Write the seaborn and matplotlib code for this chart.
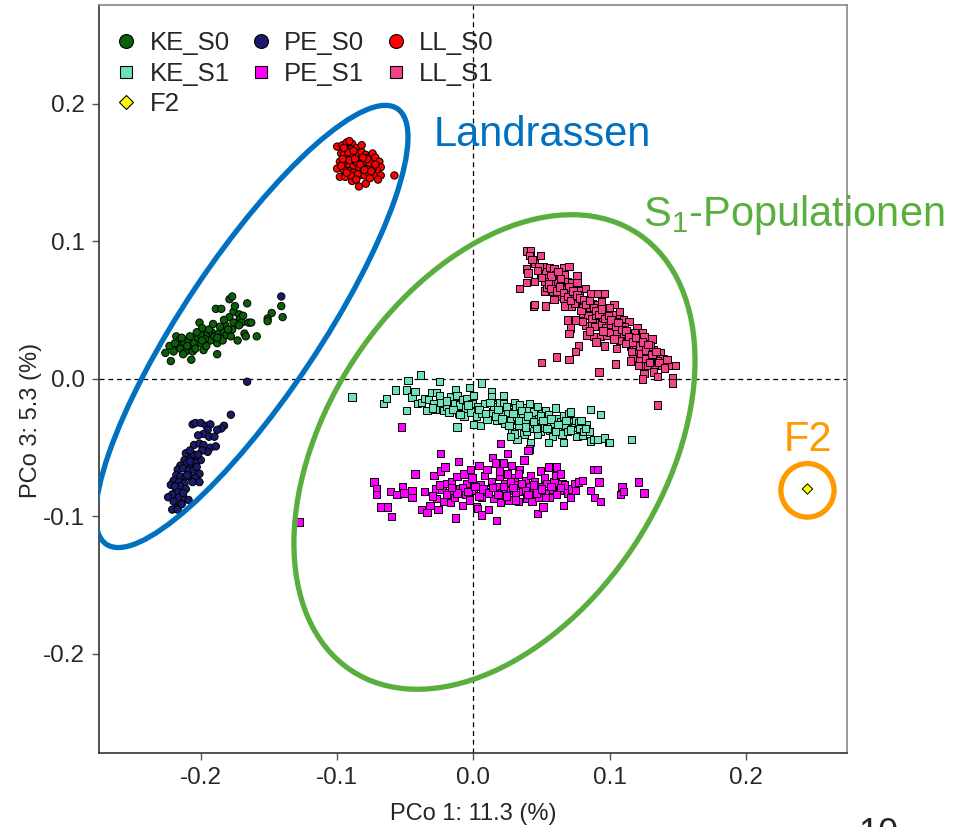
import numpy as np
import pandas as pd
import matplotlib
matplotlib.use("Agg")
import matplotlib.pyplot as plt
from matplotlib.patches import Ellipse, Circle
from matplotlib.lines import Line2D
import seaborn as sns

# ---------------- data ----------------
groups = ["KE_S0", "PE_S0", "LL_S0", "KE_S1", "PE_S1", "LL_S1", "F2"]

ke_s0 = [(-0.226,0.019),(-0.223,0.024),(-0.220,0.020),(-0.218,0.031),(-0.216,0.028),(-0.217,0.025),
         (-0.215,0.022),(-0.212,0.026),(-0.211,0.020),(-0.209,0.028),(-0.207,0.023),(-0.206,0.020),
         (-0.205,0.026),(-0.202,0.030),(-0.201,0.041),(-0.200,0.032),(-0.200,0.026),(-0.199,0.037),
         (-0.198,0.021),(-0.195,0.033),(-0.193,0.028),(-0.192,0.034),(-0.190,0.031),(-0.189,0.051),
         (-0.188,0.026),(-0.187,0.033),(-0.185,0.051),(-0.184,0.028),(-0.183,0.034),(-0.182,0.039),
         (-0.181,0.032),(-0.179,0.045),(-0.179,0.058),(-0.178,0.031),(-0.177,0.036),(-0.177,0.060),
         (-0.176,0.049),(-0.174,0.041),(-0.173,0.028),(-0.172,0.047),(-0.171,0.044),(-0.170,0.041),
         (-0.168,0.033),(-0.167,0.031),(-0.166,0.055),(-0.165,0.041),(-0.163,0.041),(-0.159,0.031),
         (-0.151,0.044),(-0.151,0.042),(-0.148,0.048),(-0.140,0.045),(-0.222,0.013),(-0.207,0.014),
         (-0.188,0.018),(-0.141,0.053),(-0.214,0.030),(-0.210,0.024),(-0.208,0.031),(-0.204,0.022),
         (-0.203,0.034),(-0.197,0.029),(-0.196,0.024),(-0.194,0.036),(-0.191,0.040),(-0.186,0.038),
         (-0.183,0.043),(-0.180,0.036),(-0.176,0.041),(-0.172,0.039),(-0.169,0.046),(-0.175,0.053),
         (-0.219,0.026),(-0.213,0.018),(-0.188,0.030),(-0.199,0.028)]

pe_s0 = [(-0.178,-0.026),(-0.206,-0.033),(-0.204,-0.032),(-0.200,-0.032),(-0.196,-0.034),(-0.193,-0.033),
         (-0.183,-0.034),(-0.185,-0.036),(-0.195,-0.037),(-0.188,-0.037),(-0.198,-0.040),(-0.202,-0.041),
         (-0.194,-0.042),(-0.190,-0.042),(-0.205,-0.048),(-0.201,-0.047),(-0.198,-0.048),(-0.193,-0.050),
         (-0.189,-0.049),(-0.195,-0.053),(-0.211,-0.054),(-0.207,-0.057),(-0.205,-0.055),(-0.202,-0.058),
         (-0.200,-0.059),(-0.212,-0.059),(-0.215,-0.063),(-0.210,-0.061),(-0.206,-0.063),(-0.204,-0.061),
         (-0.217,-0.066),(-0.213,-0.065),(-0.209,-0.067),(-0.205,-0.066),(-0.201,-0.069),(-0.218,-0.070),
         (-0.215,-0.071),(-0.211,-0.071),(-0.207,-0.072),(-0.220,-0.074),(-0.216,-0.075),(-0.212,-0.076),
         (-0.204,-0.072),(-0.201,-0.075),(-0.222,-0.077),(-0.218,-0.080),(-0.215,-0.078),(-0.211,-0.080),
         (-0.217,-0.082),(-0.221,-0.084),(-0.224,-0.086),(-0.216,-0.086),(-0.212,-0.087),(-0.209,-0.088),
         (-0.220,-0.089),(-0.216,-0.092),(-0.218,-0.094),(-0.221,-0.095),(-0.217,-0.095),
         (-0.141,0.060),(-0.166,-0.002),(-0.208,-0.060),(-0.203,-0.064),(-0.210,-0.070),(-0.206,-0.075),
         (-0.213,-0.083),(-0.199,-0.052),(-0.202,-0.055),(-0.208,-0.052),(-0.219,-0.078),(-0.214,-0.091)]

ll_s0 = [(-0.100,0.169),(-0.096,0.170),(-0.093,0.172),(-0.089,0.171),(-0.086,0.168),(-0.094,0.167),
         (-0.090,0.167),(-0.097,0.164),(-0.095,0.163),(-0.091,0.162),(-0.088,0.163),(-0.084,0.164),
         (-0.082,0.165),(-0.079,0.163),(-0.077,0.161),(-0.074,0.164),(-0.072,0.161),(-0.069,0.158),
         (-0.068,0.154),(-0.071,0.152),(-0.074,0.153),(-0.078,0.154),(-0.082,0.153),(-0.085,0.153),
         (-0.089,0.154),(-0.093,0.156),(-0.096,0.157),(-0.098,0.158),(-0.100,0.153),(-0.095,0.152),
         (-0.091,0.151),(-0.088,0.150),(-0.084,0.148),(-0.080,0.148),(-0.077,0.150),(-0.073,0.148),
         (-0.068,0.148),(-0.098,0.147),(-0.094,0.147),(-0.089,0.144),(-0.079,0.142),(-0.083,0.158),
         (-0.079,0.158),(-0.076,0.157),(-0.086,0.158),(-0.091,0.159),(-0.096,0.160),(-0.058,0.148),
         (-0.092,0.165),(-0.087,0.160),(-0.083,0.156),(-0.080,0.152),(-0.076,0.146),(-0.072,0.156),
         (-0.078,0.160),(-0.085,0.149),(-0.090,0.148),(-0.093,0.150),(-0.097,0.155),(-0.088,0.166),
         (-0.081,0.161),(-0.075,0.151),(-0.070,0.145),(-0.086,0.145),(-0.084,0.140),(-0.082,0.170),
         (-0.091,0.173),(-0.095,0.168)]

ke_s1 = [(-0.089,-0.013),(-0.066,-0.018),(-0.064,-0.014),(-0.057,-0.008),(-0.049,-0.008),(-0.049,-0.023),
         (-0.048,-0.001),(-0.045,-0.013),(-0.043,-0.009),(-0.039,0.003),(-0.041,-0.018),(-0.038,-0.017),
         (-0.036,-0.014),(-0.034,-0.023),(-0.033,-0.015),(-0.031,-0.010),(-0.029,-0.018),(-0.028,-0.022),
         (-0.025,-0.002),(-0.027,-0.010),(-0.025,-0.012),(-0.024,-0.017),(-0.022,-0.023),(-0.020,-0.020),
         (-0.018,-0.024),(-0.017,-0.013),(-0.014,-0.018),(-0.013,-0.008),(-0.012,-0.012),(-0.011,-0.025),
         (-0.012,-0.035),(-0.010,-0.019),(-0.008,-0.015),(-0.007,-0.027),(-0.006,-0.021),(-0.005,-0.014),
         (-0.003,-0.006),(-0.002,-0.024),(-0.001,-0.018),(0.000,-0.033),(0.000,-0.012),(0.002,-0.027),
         (0.003,-0.020),(0.005,-0.034),(0.006,-0.003),(0.006,-0.025),(0.008,-0.018),(0.010,-0.029),
         (0.013,-0.009),(0.013,-0.013),(0.014,-0.024),(0.015,-0.020),(0.017,-0.030),(0.019,-0.017),
         (0.020,-0.026),(0.022,-0.012),(0.022,-0.018),(0.023,-0.032),(0.025,-0.024),(0.027,-0.030),
         (0.028,-0.038),(0.030,-0.017),(0.031,-0.021),(0.032,-0.027),(0.033,-0.034),(0.034,-0.019),
         (0.036,-0.025),(0.037,-0.040),(0.038,-0.030),(0.039,-0.021),(0.041,-0.018),(0.042,-0.036),
         (0.043,-0.027),(0.044,-0.024),(0.045,-0.032),(0.047,-0.020),(0.048,-0.029),(0.049,-0.038),
         (0.050,-0.025),(0.052,-0.035),(0.053,-0.023),(0.054,-0.031),(0.055,-0.026),(0.056,-0.037),
         (0.058,-0.042),(0.059,-0.032),(0.060,-0.021),(0.061,-0.029),(0.063,-0.036),(0.064,-0.031),
         (0.065,-0.040),(0.066,-0.027),(0.067,-0.034),(0.069,-0.038),(0.070,-0.025),(0.071,-0.024),
         (0.072,-0.031),(0.074,-0.035),(0.075,-0.030),(0.076,-0.042),(0.077,-0.032),(0.078,-0.036),
         (0.080,-0.041),(0.081,-0.038),(0.083,-0.033),(0.085,-0.038),(0.086,-0.022),(0.086,-0.045),
         (0.088,-0.044),(0.091,-0.044),(0.093,-0.026),(0.096,-0.043),(0.099,-0.046),(0.100,-0.046),
         (0.116,-0.044),(0.042,-0.046),(0.055,-0.046),(0.066,-0.046),(0.032,-0.044),(0.030,-0.040),
         (0.039,-0.038),(0.047,-0.040),(0.027,-0.042),
         (-0.015,-0.022),(-0.010,-0.026),(-0.004,-0.019),(0.004,-0.022),(0.009,-0.025),(0.012,-0.017),
         (0.016,-0.027),(0.018,-0.022),(0.021,-0.029),(0.024,-0.020),(0.026,-0.034),(0.029,-0.025),
         (0.033,-0.030),(0.035,-0.023),(0.038,-0.035),(0.040,-0.027),(0.044,-0.031),(0.046,-0.036),
         (0.049,-0.027),(0.051,-0.030),(0.054,-0.036),(0.057,-0.029),(0.060,-0.038),(0.062,-0.033),
         (0.068,-0.030),(0.071,-0.037),(0.079,-0.030),(0.082,-0.036),(-0.020,-0.016),(-0.030,-0.021)]

pe_s1 = [(-0.073,-0.075),(-0.071,-0.080),(-0.071,-0.084),(-0.068,-0.093),(-0.063,-0.093),(-0.060,-0.100),
         (-0.061,-0.082),(-0.056,-0.084),(-0.052,-0.078),(-0.051,-0.083),(-0.045,-0.081),(-0.045,-0.086),
         (-0.043,-0.069),(-0.038,-0.095),(-0.036,-0.082),(-0.034,-0.097),(-0.032,-0.092),(-0.029,-0.070),
         (-0.028,-0.080),(-0.027,-0.087),(-0.026,-0.095),(-0.024,-0.067),(-0.024,-0.054),(-0.023,-0.080),
         (-0.022,-0.089),(-0.021,-0.064),(-0.020,-0.076),(-0.018,-0.083),(-0.017,-0.090),(-0.016,-0.075),
         (-0.014,-0.086),(-0.013,-0.101),(-0.012,-0.071),(-0.011,-0.060),(-0.010,-0.080),(-0.008,-0.092),
         (-0.007,-0.069),(-0.006,-0.084),(-0.005,-0.076),(-0.003,-0.088),(-0.002,-0.066),(-0.001,-0.072),
         (0.000,-0.081),(0.002,-0.093),(0.003,-0.094),(0.004,-0.063),(0.005,-0.077),(0.006,-0.086),
         (0.006,-0.099),(0.008,-0.070),(0.009,-0.082),(0.010,-0.066),(0.011,-0.095),(0.013,-0.075),
         (0.014,-0.057),(0.015,-0.087),(0.016,-0.061),(0.017,-0.103),(0.017,-0.078),(0.019,-0.071),
         (0.020,-0.090),(0.021,-0.083),(0.022,-0.061),(0.023,-0.076),(0.025,-0.069),(0.025,-0.054),
         (0.026,-0.088),(0.027,-0.081),(0.028,-0.063),(0.030,-0.072),(0.031,-0.084),(0.032,-0.077),
         (0.033,-0.089),(0.034,-0.066),(0.036,-0.082),(0.037,-0.059),(0.038,-0.074),(0.039,-0.087),
         (0.041,-0.078),(0.042,-0.070),(0.043,-0.089),(0.044,-0.081),(0.045,-0.075),(0.047,-0.098),
         (0.048,-0.086),(0.049,-0.067),(0.050,-0.078),(0.051,-0.093),(0.052,-0.072),(0.053,-0.083),
         (0.054,-0.076),(0.055,-0.064),(0.056,-0.086),(0.058,-0.080),(0.059,-0.075),(0.060,-0.070),
         (0.061,-0.064),(0.063,-0.081),(0.064,-0.069),(0.065,-0.076),(0.066,-0.092),(0.067,-0.077),
         (0.069,-0.083),(0.071,-0.086),(0.072,-0.080),(0.074,-0.076),(0.075,-0.081),(0.077,-0.075),
         (0.080,-0.074),(0.086,-0.081),(0.088,-0.066),(0.089,-0.086),(0.091,-0.066),(0.092,-0.075),
         (0.093,-0.089),(0.108,-0.084),(0.109,-0.078),(0.110,-0.082),(0.121,-0.075),(0.125,-0.083),
         (-0.128,-0.104),(-0.053,-0.035),(0.020,-0.047),(0.041,-0.051),(0.040,-0.052),
         (-0.008,-0.079),(-0.004,-0.082),(0.001,-0.078),(0.004,-0.085),(0.007,-0.080),(0.011,-0.083),
         (0.014,-0.079),(0.018,-0.084),(0.022,-0.078),(0.024,-0.085),(0.027,-0.075),(0.029,-0.079),
         (0.031,-0.088),(0.035,-0.076),(0.038,-0.081),(0.040,-0.084),(0.044,-0.077),(0.046,-0.083),
         (0.050,-0.080),(0.053,-0.086),(0.057,-0.078),(0.061,-0.084),(0.064,-0.079),(-0.012,-0.083),
         (-0.016,-0.079),(-0.020,-0.084),(-0.025,-0.077),(-0.030,-0.085),(0.019,-0.067),(0.033,-0.069)]

ll_s1 = [(0.039,0.093),(0.042,0.093),(0.041,0.090),(0.049,0.090),(0.044,0.085),(0.045,0.084),
         (0.039,0.080),(0.040,0.077),(0.051,0.082),(0.049,0.076),(0.053,0.078),(0.056,0.081),
         (0.059,0.080),(0.055,0.074),(0.060,0.076),(0.066,0.081),(0.070,0.082),(0.067,0.076),
         (0.076,0.075),(0.039,0.070),(0.045,0.071),(0.034,0.066),(0.052,0.064),(0.054,0.067),
         (0.058,0.070),(0.063,0.072),(0.065,0.067),(0.069,0.071),(0.072,0.070),(0.076,0.070),
         (0.060,0.061),(0.064,0.060),(0.059,0.058),(0.071,0.062),(0.075,0.065),(0.078,0.064),
         (0.082,0.066),(0.086,0.062),(0.091,0.062),(0.096,0.062),(0.053,0.053),(0.044,0.053),
         (0.045,0.054),(0.067,0.053),(0.072,0.053),(0.078,0.055),(0.083,0.056),(0.087,0.055),
         (0.091,0.054),(0.094,0.056),(0.103,0.054),(0.080,0.048),(0.085,0.050),(0.089,0.049),
         (0.093,0.049),(0.098,0.050),(0.102,0.047),(0.107,0.045),(0.110,0.043),(0.069,0.043),
         (0.075,0.043),(0.071,0.037),(0.070,0.033),(0.082,0.039),(0.087,0.039),(0.092,0.041),
         (0.098,0.042),(0.104,0.042),(0.108,0.039),(0.114,0.042),(0.120,0.037),(0.124,0.034),
         (0.083,0.032),(0.088,0.031),(0.093,0.031),(0.098,0.032),(0.103,0.036),(0.108,0.031),
         (0.113,0.030),(0.117,0.031),(0.121,0.028),(0.125,0.031),(0.131,0.029),(0.096,0.024),
         (0.105,0.022),(0.115,0.024),(0.120,0.021),(0.127,0.022),(0.132,0.021),(0.137,0.019),
         (0.077,0.024),(0.075,0.020),(0.061,0.016),(0.070,0.014),(0.050,0.012),(0.117,0.016),
         (0.122,0.015),(0.128,0.018),(0.132,0.016),(0.139,0.015),(0.125,0.010),(0.128,0.010),
         (0.133,0.010),(0.138,0.010),(0.143,0.010),(0.148,0.010),(0.132,0.005),(0.135,0.002),
         (0.125,0.004),(0.124,0.000),(0.092,0.005),(0.104,0.011),(0.146,0.001),(0.146,-0.003),
         (0.115,0.013),(0.135,-0.019),
         (0.062,0.070),(0.068,0.065),(0.073,0.060),(0.077,0.058),(0.080,0.052),(0.084,0.046),
         (0.087,0.044),(0.090,0.046),(0.094,0.040),(0.097,0.037),(0.100,0.034),(0.101,0.040),
         (0.105,0.035),(0.107,0.028),(0.110,0.033),(0.112,0.026),(0.116,0.020),(0.119,0.025),
         (0.123,0.019),(0.126,0.015),(0.129,0.012),(0.057,0.075),(0.064,0.073),(0.070,0.067),
         (0.074,0.055),(0.079,0.050),(0.085,0.052),(0.089,0.038),(0.095,0.045),(0.103,0.029),
         (0.111,0.038),(0.118,0.034),(0.121,0.010),(0.130,0.024),(0.135,0.013),(0.062,0.078),
         (0.058,0.064),(0.048,0.082),(0.052,0.071),(0.066,0.059),
         (0.043,0.087),(0.047,0.079),(0.050,0.074),(0.055,0.069),(0.057,0.066),(0.061,0.064),
         (0.063,0.067),(0.066,0.063),(0.069,0.060),(0.071,0.057),(0.073,0.064),(0.076,0.061),
         (0.078,0.059),(0.081,0.058),(0.082,0.054),(0.085,0.057),(0.088,0.052),(0.090,0.050),
         (0.092,0.047),(0.094,0.051),(0.096,0.044),(0.099,0.046),(0.101,0.043),(0.104,0.038),
         (0.106,0.041),(0.109,0.036),(0.112,0.035),(0.114,0.031),(0.117,0.027),(0.119,0.030),
         (0.122,0.024),(0.124,0.027),(0.126,0.021),(0.128,0.025),(0.131,0.018),(0.134,0.020),
         (0.136,0.012),(0.140,0.008),(0.142,0.014),(0.107,0.049),(0.100,0.052),(0.095,0.035),
         (0.090,0.027),(0.085,0.035),(0.080,0.042)]

f2 = [(0.245,-0.080)]

x_ticks = [-0.2, -0.1, 0.0, 0.1, 0.2]
x_tick_labels = ["-0.2", "-0.1", "0.0", "0.1", "0.2"]
y_ticks = [-0.2, -0.1, 0.0, 0.1, 0.2]
y_tick_labels = ["-0.2", "-0.1", "0.0", "0.1", "0.2"]
x_label = "PCo 1: 11.3 (%)"
y_label = "PCo 3: 5.3 (%)"

# ---------------- styling ----------------
colors = {"KE_S0": "#0A5F0A", "PE_S0": "#1B1B6B", "LL_S0": "#FF0000",
          "KE_S1": "#6FE0BC", "PE_S1": "#FF00FF", "LL_S1": "#F4428A", "F2": "#FFFF00"}
markers = {"KE_S0": "o", "PE_S0": "o", "LL_S0": "o",
           "KE_S1": "s", "PE_S1": "s", "LL_S1": "s", "F2": "D"}

sns.set_style("ticks")
plt.rcParams["font.family"] = ["Liberation Sans", "DejaVu Sans"]
plt.rcParams["axes.unicode_minus"] = False

rows = []
for g, pts in zip(groups, [ke_s0, pe_s0, ll_s0, ke_s1, pe_s1, ll_s1, f2]):
    for (x, y) in pts:
        rows.append({"x": x, "y": y, "group": g})
df = pd.DataFrame(rows)

fig = plt.figure(figsize=(9.65, 8.27), dpi=100)
ax = fig.add_axes([0.1026, 0.0895, 0.7751, 0.9045])

ax.axhline(0, color="black", lw=0.9, ls=(0, (4, 3)), zorder=1)
ax.axvline(0, color="black", lw=0.9, ls=(0, (4, 3)), zorder=1)

sns.scatterplot(data=df, x="x", y="y", hue="group", style="group",
                hue_order=groups, style_order=groups, palette=colors, markers=markers,
                s=28, edgecolor="black", linewidth=0.7, legend=False, ax=ax, zorder=3)

ax.set_xlim(-0.2747, 0.274)
ax.set_ylim(-0.272, 0.272)
ax.set_xticks(x_ticks)
ax.set_xticklabels(x_tick_labels)
ax.set_yticks(y_ticks)
ax.set_yticklabels(y_tick_labels)
ax.set_xlabel(x_label, fontsize=17, labelpad=10)
ax.set_ylabel(y_label, fontsize=17)
ax.yaxis.set_label_coords(-0.076, 0.445)
ax.tick_params(axis="both", labelsize=17.5, length=5, width=1, color="#555555", direction="out", pad=5)

for side in ["top", "right"]:
    ax.spines[side].set_color("#888888")
    ax.spines[side].set_linewidth(1.2)
for side in ["bottom", "left"]:
    ax.spines[side].set_color("#333333")
    ax.spines[side].set_linewidth(1.2)

# annotations
blue = "#0070C0"
green = "#5AAE3E"
orange = "#FF9900"
ax.add_patch(Ellipse((-0.1626, 0.0382), 0.382, 0.100, angle=56, fill=False, ec=blue, lw=3.8, zorder=4))
ax.add_patch(Ellipse((0.0154, -0.0531), 0.381, 0.246, angle=56.3, fill=False, ec=green, lw=3.8, zorder=4))
ax.add_patch(Circle((0.245, -0.081), 0.0195, fill=False, ec=orange, lw=3.8, zorder=4))
ax.text(0.0505, 0.1775, "Landrassen", color=blue, fontsize=30, ha="center", va="center")
ax.text(0.1245, 0.119, r"S$_{\mathregular{1}}$-Populationen", color=green, fontsize=30,
        ha="left", va="center", clip_on=False)
ax.text(0.245, -0.0444, "F2", color=orange, fontsize=30, ha="center", va="center")

# legend
order = ["KE_S0", "KE_S1", "F2", "PE_S0", "PE_S1", "LL_S0", "LL_S1"]
handles = []
for g in order:
    ms = 10 if markers[g] == "o" else (8.5 if markers[g] == "s" else 7.5)
    handles.append(Line2D([], [], ls="", marker=markers[g], markerfacecolor=colors[g],
                          markeredgecolor="black", markeredgewidth=0.8, markersize=ms, label=g))
ax.legend(handles=handles, ncol=3, loc="upper left", bbox_to_anchor=(-0.008, 0.989),
          frameon=False, fontsize=18.5, handletextpad=0.3, columnspacing=0.62,
          labelspacing=0.25, handlelength=1.2, borderaxespad=0.4, borderpad=0.3)

fig.text(0.91, 0.0115, "10", fontsize=26, ha="center", va="top")

fig.savefig("out.png", dpi=100, facecolor="white")
